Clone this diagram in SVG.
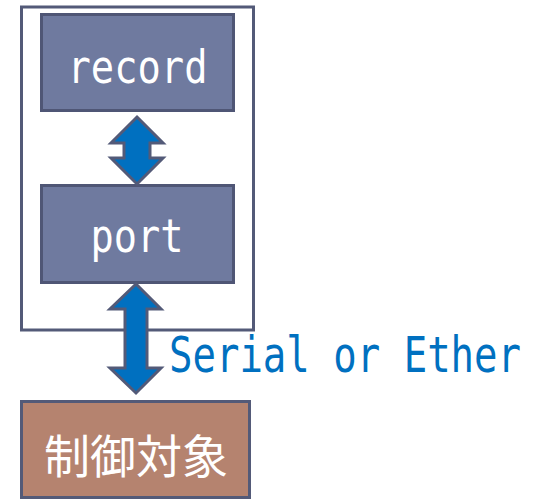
<svg xmlns="http://www.w3.org/2000/svg" width="533" height="499" viewBox="0 0 533 499">
  <style>
    .frame { fill: #ffffff; stroke: #535a78; stroke-width: 3; }
    .node { fill: #6f7a9f; stroke: #4f5675; stroke-width: 3; }
    .target { fill: #b5836f; stroke: #535a78; stroke-width: 3; }
    .arrow { fill: #0070c0; stroke: #535a78; stroke-width: 3; stroke-linejoin: miter; }
    .mono { font-family: "DejaVu Sans Mono", "Liberation Mono", monospace; }
    .label { fill: #ffffff; font-size: 47px; text-anchor: middle; }
    .link { fill: #0070c0; font-size: 49px; }
    .cjk { font-family: "Noto Sans CJK JP", "Noto Sans", sans-serif; fill: #ffffff; font-size: 46px; text-anchor: middle; }
  </style>

  <!-- host container -->
  <g id="host">
    <rect class="frame" x="21.5" y="7" width="232" height="323"/>
  </g>

  <g id="record">
    <rect class="node" x="41.5" y="14.5" width="192" height="96"/>
    <text class="mono label" x="137.5" y="83" textLength="140" lengthAdjust="spacingAndGlyphs">record</text>
  </g>

  <g id="port">
    <rect class="node" x="41.5" y="185.5" width="192" height="97"/>
    <text class="mono label" x="137" y="252" textLength="93" lengthAdjust="spacingAndGlyphs">port</text>
  </g>

  <g id="control-target">
    <rect class="target" x="21.5" y="401.5" width="228" height="96"/>
    <text class="cjk" x="136" y="473">制御対象</text>
  </g>

  <!-- double-headed connectors -->
  <g id="connectors">
    <path class="arrow" d="M137,117 L163,143 L150,143 L150,158 L163,158 L137,184 L111,158 L124,158 L124,143 L111,143 Z"/>
    <path class="arrow" d="M136,284 L161,309 L147,309 L147,368 L161,368 L136,393 L110,368 L125,368 L125,309 L110,309 Z"/>
    <text class="mono link" x="169" y="372" textLength="352" lengthAdjust="spacingAndGlyphs">Serial or Ether</text>
  </g>
</svg>
